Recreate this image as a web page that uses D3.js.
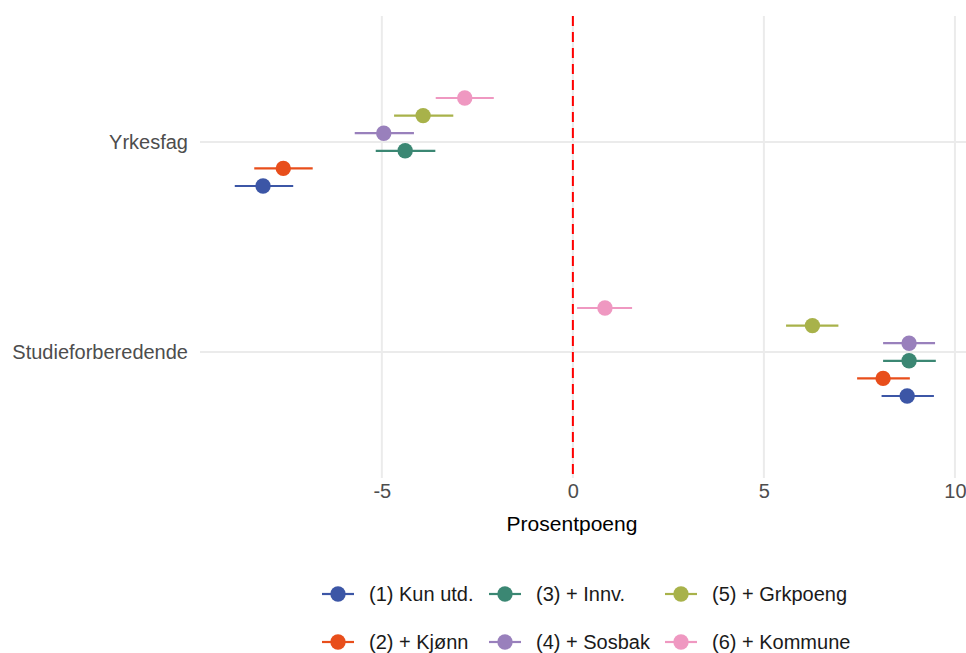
<!DOCTYPE html>
<html lang="no">
<head>
  <meta charset="UTF-8">
  <title>Prosentpoeng etter modell</title>
  <script src="https://cdn.jsdelivr.net/npm/d3@7"></script>
  <style>
    body { margin: 0; background: #fff; }
    svg { display: block; font-family: "Liberation Sans", Arial, sans-serif; }
  </style>
</head>
<body>
  <div id="chart"></div>
  <script>
    // Data
    const categories = ["Yrkesfag", "Studieforberedende"];
    const models = ["(1) Kun utd.", "(2) + Kjønn", "(3) + Innv.", "(4) + Sosbak", "(5) + Grkpoeng", "(6) + Kommune"];
    const colors = ["#3C56A6", "#E84E1B", "#3B8773", "#9980BC", "#A8B24A", "#EF98C1"];

    const yrkesEst = [-8.11, -7.58, -4.39, -4.95, -3.92, -2.83];
    const yrkesLow = [-8.85, -8.34, -5.16, -5.71, -4.68, -3.59];
    const yrkesHigh = [-7.32, -6.81, -3.60, -4.16, -3.13, -2.07];

    const studEst = [8.75, 8.12, 8.80, 8.80, 6.27, 0.84];
    const studLow = [8.08, 7.44, 8.12, 8.12, 5.58, 0.11];
    const studHigh = [9.45, 8.82, 9.50, 9.48, 6.95, 1.55];

    const xTicks = [-5, 0, 5, 10];
    const xTitle = "Prosentpoeng";

    const rows = [];
    models.forEach((m, i) => {
      rows.push({ cat: "Yrkesfag", model: m, est: yrkesEst[i], lo: yrkesLow[i], hi: yrkesHigh[i], color: colors[i] });
      rows.push({ cat: "Studieforberedende", model: m, est: studEst[i], lo: studLow[i], hi: studHigh[i], color: colors[i] });
    });

    const W = 966, H = 653;
    const panel = { left: 200, right: 966, top: 16, bottom: 478 };

    const svg = d3.select("#chart").append("svg")
      .attr("width", W)
      .attr("height", H);

    const x = d3.scaleLinear()
      .domain([-9.76, 10.29])
      .range([panel.left, panel.right]);

    const y = d3.scalePoint()
      .domain(categories)
      .range([panel.top, panel.bottom])
      .padding(0.6);

    // dodge: model 1 lowest, model 6 highest
    const dodge = d3.scaleBand()
      .domain(models.slice().reverse())
      .range([-52.8, 52.8]);

    const yPos = d => y(d.cat) + dodge(d.model) + dodge.bandwidth() / 2;

    // grid
    svg.append("g")
      .selectAll("line")
      .data(xTicks)
      .join("line")
        .attr("x1", d => x(d)).attr("x2", d => x(d))
        .attr("y1", panel.top).attr("y2", panel.bottom)
        .attr("stroke", "#EBEBEB")
        .attr("stroke-width", 2);

    svg.append("g")
      .selectAll("line")
      .data(categories)
      .join("line")
        .attr("x1", panel.left).attr("x2", panel.right)
        .attr("y1", d => y(d)).attr("y2", d => y(d))
        .attr("stroke", "#EBEBEB")
        .attr("stroke-width", 2);

    // zero line
    svg.append("line")
      .attr("x1", x(0)).attr("x2", x(0))
      .attr("y1", panel.top).attr("y2", panel.bottom)
      .attr("stroke", "#FF0000")
      .attr("stroke-width", 2)
      .attr("stroke-dasharray", "10,6");

    // error bars
    svg.append("g")
      .selectAll("line")
      .data(rows)
      .join("line")
        .attr("x1", d => x(d.lo))
        .attr("x2", d => x(d.hi))
        .attr("y1", yPos)
        .attr("y2", yPos)
        .attr("stroke", d => d.color)
        .attr("stroke-width", 2.2);

    // points
    svg.append("g")
      .selectAll("circle")
      .data(rows)
      .join("circle")
        .attr("cx", d => x(d.est))
        .attr("cy", yPos)
        .attr("r", 7.7)
        .attr("fill", d => d.color);

    // x axis labels (hyphen as minus, like the original)
    const xAxis = svg.append("g")
      .attr("transform", `translate(0,${panel.bottom + 6})`)
      .call(d3.axisBottom(x).tickValues(xTicks).tickSize(0).tickPadding(0).tickFormat(d => String(d)));
    xAxis.select(".domain").remove();
    xAxis.selectAll("text")
      .attr("fill", "#4D4D4D")
      .attr("dy", "0.71em")
      .style("font-size", "20px")
      .style("font-family", "'Liberation Sans', Arial, sans-serif");

    // y axis labels
    const yAxis = svg.append("g")
      .attr("transform", `translate(${panel.left - 8},0)`)
      .call(d3.axisLeft(y).tickSize(0).tickPadding(4));
    yAxis.select(".domain").remove();
    yAxis.selectAll("text")
      .attr("fill", "#4D4D4D")
      .style("font-size", "20px")
      .style("font-family", "'Liberation Sans', Arial, sans-serif");

    // x title
    svg.append("text")
      .attr("x", 572)
      .attr("y", 531)
      .attr("text-anchor", "middle")
      .attr("fill", "#000")
      .style("font-size", "21px")
      .text(xTitle);

    // legend (filled column-wise, 2 rows)
    const legendCols = [338, 505, 681];
    const legendRows = [594, 642];
    const legend = svg.append("g")
      .selectAll("g")
      .data(models)
      .join("g")
        .attr("transform", (d, i) => `translate(${legendCols[Math.floor(i / 2)]},${legendRows[i % 2]})`);
    legend.append("line")
      .attr("x1", -16).attr("x2", 16)
      .attr("stroke", (d, i) => colors[i])
      .attr("stroke-width", 2.2);
    legend.append("circle")
      .attr("r", 7.7)
      .attr("fill", (d, i) => colors[i]);
    legend.append("text")
      .attr("x", 31)
      .attr("dy", "0.35em")
      .attr("fill", "#1A1A1A")
      .style("font-size", "20px")
      .text(d => d);
  </script>
</body>
</html>
